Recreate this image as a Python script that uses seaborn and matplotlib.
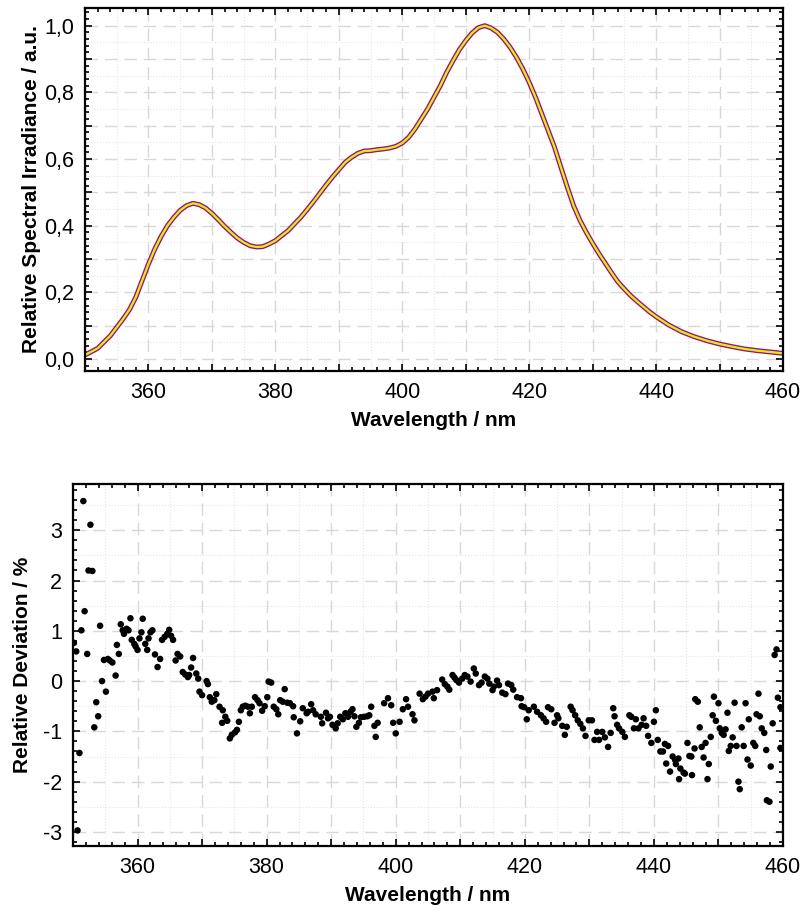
import numpy as np
import pandas as pd
import matplotlib
matplotlib.use("Agg")
import matplotlib.pyplot as plt
from matplotlib.ticker import MultipleLocator, FuncFormatter
import seaborn as sns

# spectrum (top panel)
wl = [350, 352, 354, 355, 356, 357, 358, 359, 360, 361, 362, 363, 364, 365, 366,
      367, 368, 369, 370, 371, 372, 373, 374, 375, 376, 377, 378, 379, 380, 381,
      382, 383, 384, 385, 386, 387, 388, 389, 390, 391, 392, 393, 394, 395, 396,
      397, 398, 399, 400, 401, 402, 403, 404, 405, 406, 407, 408, 409, 410, 411,
      412, 413, 414, 415, 416, 417, 418, 419, 420, 421, 422, 423, 424, 425, 426,
      427, 428, 429, 430, 431, 432, 433, 434, 435, 436, 437, 438, 439, 440, 442,
      444, 446, 448, 450, 452, 454, 456, 458, 460]
irr = [0.012, 0.032, 0.07, 0.095, 0.12, 0.148, 0.185, 0.235, 0.285, 0.33, 0.368,
       0.40, 0.425, 0.446, 0.46, 0.467, 0.463, 0.453, 0.437, 0.418, 0.398, 0.38,
       0.363, 0.35, 0.34, 0.336, 0.337, 0.345, 0.355, 0.37, 0.385, 0.405, 0.425,
       0.448, 0.472, 0.497, 0.522, 0.546, 0.568, 0.59, 0.605, 0.617, 0.624, 0.625,
       0.628, 0.63, 0.633, 0.638, 0.648, 0.665, 0.69, 0.72, 0.75, 0.785, 0.82,
       0.86, 0.895, 0.928, 0.955, 0.978, 0.994, 1.0, 0.993, 0.98, 0.96, 0.935,
       0.905, 0.87, 0.83, 0.785, 0.735, 0.685, 0.635, 0.575, 0.516, 0.46, 0.416,
       0.38, 0.347, 0.316, 0.287, 0.258, 0.231, 0.21, 0.19, 0.173, 0.157, 0.141,
       0.127, 0.102, 0.082, 0.067, 0.055, 0.045, 0.037, 0.03, 0.025, 0.021, 0.017]

# relative deviation (bottom panel)
dev_wl = [350.15, 350.5, 350.7, 351.0, 351.3, 351.6, 351.8, 352.2, 352.4, 352.7, 353.0,
          353.3, 353.6, 353.9, 354.2, 354.5, 354.8, 355.1, 355.4, 355.7, 356.1, 356.6,
          356.8, 357.1, 357.4, 357.7, 357.9, 358.3, 358.6, 358.9, 359.1, 359.5, 359.7,
          360.0, 360.3, 360.6, 360.8, 361.2, 361.5, 361.7, 362.0, 362.3, 362.7, 363.1,
          363.5, 363.8, 364.2, 364.6, 364.9, 365.2, 365.5, 365.9, 366.2, 366.6, 367.0,
          367.4, 367.8,
          368.0, 368.3, 368.6, 369.1, 369.4, 369.6, 370.0, 370.7, 370.9, 371.2, 371.5,
          371.9, 372.2, 372.7, 373.1, 373.2, 373.6, 373.9, 374.3, 374.6, 375.1, 375.4,
          375.7, 376.0, 376.3, 376.7, 377.1, 377.4, 377.7, 378.2, 378.6, 378.9, 379.3,
          379.7, 380.1, 380.3, 380.7, 381.1, 381.5, 381.8, 382.1, 382.5, 382.8, 383.2,
          383.6, 384.1, 384.2, 384.7, 385.2, 385.6, 386.2,
          386.4, 386.9, 387.2, 387.6, 388.4, 388.6, 389.2, 389.5, 389.8, 390.2, 390.7,
          391.0, 391.4, 391.8, 392.2, 392.6, 393.0, 393.3, 393.6, 393.9, 394.3, 394.6,
          395.1, 395.6, 395.9, 396.2, 396.7, 396.9, 397.2, 398.2, 398.8, 399.3, 399.6,
          400.0, 400.6, 401.1, 401.6, 401.9, 402.6, 402.9, 403.7, 404.2,
          404.6, 405.0, 405.7, 405.9, 406.4, 407.2, 407.6, 408.0, 408.3, 408.8, 409.1,
          409.4, 409.8, 410.3, 410.7, 411.1, 411.6, 412.1, 412.4, 412.9, 413.3, 413.8,
          414.2, 414.5, 415.0, 415.2, 415.7, 416.0, 416.5, 417.0, 417.4, 417.9, 418.2,
          418.8, 419.4, 419.5, 419.9, 420.3, 420.6, 421.4, 421.9, 422.5,
          422.9, 423.3, 423.6, 424.1, 424.6, 425.0, 425.2, 425.8, 426.2, 426.5, 427.1,
          427.4, 427.8, 428.2, 428.6, 429.0, 429.4, 429.9, 430.4, 430.8, 431.2, 431.5,
          432.0, 432.4, 432.9, 433.3, 433.7, 433.9, 434.3, 434.6, 435.1, 435.5, 436.2,
          436.5, 436.9, 437.2, 437.6, 438.1, 438.4, 438.8, 439.1, 439.6, 440.0, 440.3,
          440.6, 441.0,
          441.4, 441.7, 441.9, 442.2, 442.5, 442.9, 443.3, 443.4, 443.8, 443.9, 444.1,
          444.6, 444.8, 445.2, 445.5, 445.8, 445.9, 446.3, 446.4, 446.8, 447.1, 447.4,
          447.7, 448.0, 448.3, 448.5, 448.8, 449.1, 449.3, 449.6, 450.0, 450.2, 450.5,
          450.8, 451.1, 451.4, 451.6, 451.9, 452.2, 452.5, 452.8, 453.1, 453.3, 453.6,
          453.9, 454.2, 454.5, 454.7, 455.0, 455.4, 455.7, 455.9, 456.2, 456.4, 456.7,
          457.1, 457.4, 457.5, 457.9, 458.1, 458.4, 458.7, 459.0, 459.2, 459.6, 459.6]
dev_pct = [0.76, 0.59, -2.97, -1.43, 1.01, 3.58, 1.39, 0.54, 2.2, 3.11, 2.19,
           -0.92, -0.42, -0.70, 1.10, 0.0, 0.42, -0.21, 0.44, 0.41, 0.37, 0.11,
           0.72, 0.54, 1.13, 1.01, 0.94, 1.04, 1.01, 1.25, 0.82, 0.74, 0.69,
           0.62, 0.85, 0.97, 1.24, 0.74, 0.62, 0.85, 0.97, 1.01, 0.53, 0.28,
           0.44, 0.82, 0.88, 0.94, 1.02, 0.90, 0.82, 0.41, 0.54, 0.49, 0.18,
           0.13, 0.08,
           0.12, 0.27, 0.46, 0.15, 0.05, -0.21, -0.28, 0.0, -0.06, -0.32, -0.41,
           -0.38, -0.26, -0.51, -0.83, -0.58, -0.71, -0.79, -1.14, -1.07, -1.02, -0.97,
           -0.81, -0.58, -0.51, -0.49, -0.51, -0.64, -0.51, -0.32, -0.38, -0.44, -0.59,
           -0.50, -0.32, -0.01, -0.03, -0.51, -0.56, -0.66, -0.38, -0.41, -0.16, -0.43,
           -0.44, -0.50, -0.72, -1.04, -0.80, -0.54, -0.64,
           -0.61, -0.46, -0.58, -0.66, -0.71, -0.84, -0.63, -0.74, -0.71, -0.87, -0.94,
           -0.84, -0.71, -0.76, -0.64, -0.71, -0.61, -0.56, -0.70, -0.91, -0.83, -0.72,
           -0.71, -0.70, -0.68, -0.51, -0.89, -1.11, -0.83, -0.44, -0.34, -0.48, -0.83,
           -1.04, -0.81, -0.56, -0.36, -0.51, -0.66, -0.78, -0.25, -0.36,
           -0.31, -0.25, -0.21, -0.34, -0.18, 0.03, -0.06, -0.11, -0.17, 0.12, 0.07,
           0.02, -0.03, 0.05, 0.12, 0.09, -0.01, 0.25, 0.15, -0.08, -0.03, 0.09,
           0.05, -0.05, -0.18, -0.11, 0.01, -0.08, -0.23, -0.26, -0.05, -0.08, -0.17,
           -0.32, -0.34, -0.50, -0.52, -0.76, -0.58, -0.51, -0.61, -0.68,
           -0.74, -0.81, -0.52, -0.56, -0.83, -0.68, -0.74, -0.89, -1.07, -0.91, -0.51,
           -0.58, -0.68, -0.78, -0.85, -0.94, -1.09, -0.78, -0.78, -1.17, -1.01, -1.17,
           -1.01, -1.12, -1.31, -1.03, -0.54, -0.70, -0.87, -0.94, -1.01, -1.11, -0.68,
           -0.71, -0.94, -0.76, -0.94, -0.87, -0.74, -0.89, -1.09, -1.23, -0.81, -0.58,
           -1.17, -1.40,
           -1.40, -1.25, -1.64, -1.29, -1.80, -1.50, -1.57, -1.65, -1.54, -1.95, -1.74,
           -1.82, -1.84, -1.23, -1.49, -1.50, -1.87, -1.34, -0.36, -0.41, -0.92, -1.31,
           -1.52, -1.23, -1.95, -1.65, -1.11, -0.68, -0.31, -0.79, -0.44, -0.94, -1.03,
           -1.07, -0.96, -0.63, -1.39, -1.29, -1.12, -0.43, -1.29, -2.00, -2.15, -0.92,
           -1.29, -0.44, -1.56, -0.76, -1.68, -1.23, -1.29, -0.66, -0.25, -0.70, -0.94,
           -1.03, -1.37, -2.37, -2.40, -1.70, -0.84, 0.52, 0.63, -0.33, -0.52, -1.33]

sns.set_style("ticks")
plt.rcParams['font.family'] = ['Liberation Sans', 'DejaVu Sans']
plt.rcParams['text.color'] = 'black'
plt.rcParams['axes.labelcolor'] = 'black'
plt.rcParams['xtick.labelcolor'] = 'black'
plt.rcParams['ytick.labelcolor'] = 'black'

fig = plt.figure(figsize=(8.03, 9.18), dpi=100)
ax1 = fig.add_axes([85 / 803, 1 - 371 / 918, 698 / 803, 363 / 918])
ax2 = fig.add_axes([73 / 803, 1 - 846 / 918, 710 / 803, 362 / 918])

spec = pd.DataFrame({"wl": wl, "irr": irr})
dev = pd.DataFrame({"wl": dev_wl, "dev": dev_pct})

# several overlapping measurements of the same spectrum
sns.lineplot(data=spec, x="wl", y="irr", ax=ax1, color="#ff1010", lw=3.6)
sns.lineplot(data=spec, x="wl", y="irr", ax=ax1, color="#2020ff", lw=2.7)
sns.lineplot(data=spec, x="wl", y="irr", ax=ax1, color="#f5e400", lw=1.7)

sns.scatterplot(data=dev, x="wl", y="dev", ax=ax2, color="black", s=22,
                edgecolor="none", zorder=3)


def comma(v, pos):
    return f"{v:.1f}".replace(".", ",")


def every20(v, pos):
    return f"{v:.0f}" if round(v) % 20 == 0 else ""


def every02(v, pos):
    return comma(v, pos) if round(v * 10) % 2 == 0 else ""


label_font = dict(family=['Liberation Sans Narrow', 'DejaVu Sans Condensed',
                          'Liberation Sans'],
                  fontweight="bold", fontsize=15, color="black")

for ax in (ax1, ax2):
    ax.set_xlim(350, 460)
    ax.xaxis.set_major_locator(MultipleLocator(10))
    ax.xaxis.set_minor_locator(MultipleLocator(2))
    ax.xaxis.set_major_formatter(FuncFormatter(every20))
    ax.tick_params(which="both", direction="in", top=True, right=True,
                   labelsize=15.5, width=1.2, color="black", labelcolor="black")
    ax.tick_params(which="major", length=5, pad=8)
    ax.tick_params(which="minor", length=3)
    ax.grid(True, which="major", ls=(0, (9, 5)), color="#d8d8d8", lw=1.0)
    for x in np.arange(355, 460, 10):
        ax.axvline(x, ls=":", color="#e6e6e6", lw=0.8, zorder=0)
    for s in ax.spines.values():
        s.set_visible(True)
        s.set_color("black")
        s.set_linewidth(1.6)
    ax.set_axisbelow(True)
    ax.set_xlabel("Wavelength / nm", labelpad=6, **label_font)

ax1.set_ylim(-0.036, 1.053)
ax1.yaxis.set_major_locator(MultipleLocator(0.1))
ax1.yaxis.set_minor_locator(MultipleLocator(0.02))
ax1.yaxis.set_major_formatter(FuncFormatter(every02))
for y in np.arange(0.05, 1.0, 0.1):
    ax1.axhline(y, ls=":", color="#e6e6e6", lw=0.8, zorder=0)
ax1.set_ylabel("Relative Spectral Irradiance / a.u.", labelpad=2, **label_font)

ax2.set_ylim(-3.28, 3.92)
ax2.yaxis.set_major_locator(MultipleLocator(1))
ax2.yaxis.set_minor_locator(MultipleLocator(0.2))
ax2.yaxis.set_major_formatter(FuncFormatter(lambda v, p: f"{v:.0f}"))
for y in np.arange(-2.5, 3.6, 1):
    ax2.axhline(y, ls=":", color="#e6e6e6", lw=0.8, zorder=0)
ax2.set_ylabel("Relative Deviation / %", labelpad=8, **label_font)

fig.savefig("out.png", dpi=100)
